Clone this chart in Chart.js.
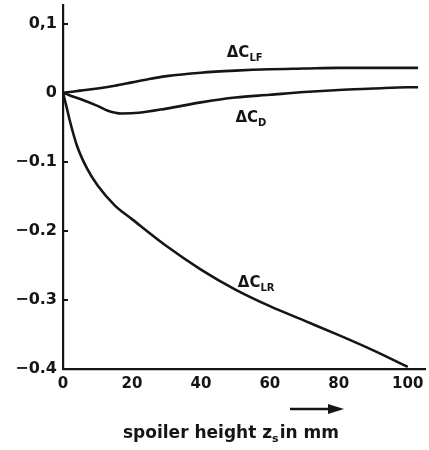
<!DOCTYPE html>
<html>
<head>
<meta charset="utf-8">
<script src="https://cdn.jsdelivr.net/npm/chart.js@4.4.1/dist/chart.umd.min.js"></script>
<style>
	html, body { margin: 0; padding: 0; background: #fff; }
	#wrap { width: 429px; height: 450px; }
</style>
</head>
<body>
<div id="wrap"><canvas id="chart"></canvas></div>
<script>
// spoiler height in mm
const x_lf = [0, 2, 5, 10, 15, 20, 25, 30, 40, 50, 60, 70, 80, 90, 100, 103];
const lift_front = [0, 0.001, 0.003, 0.006, 0.010, 0.015, 0.020, 0.024, 0.029, 0.032, 0.034, 0.035, 0.036, 0.036, 0.036, 0.036];

const x_d = [0, 2, 5, 10, 13, 17, 22, 30, 40, 50, 60, 70, 80, 90, 100, 103];
const drag = [0, -0.004, -0.009, -0.019, -0.026, -0.030, -0.029, -0.023, -0.014, -0.007, -0.003, 0.001, 0.004, 0.006, 0.008, 0.008];

const x_lr = [0, 1, 2, 4, 7, 10, 15, 20, 30, 40, 50, 60, 70, 80, 90, 100];
const lift_rear = [0, -0.020, -0.041, -0.076, -0.110, -0.134, -0.163, -0.183, -0.222, -0.256, -0.285, -0.309, -0.330, -0.351, -0.373, -0.397];

const x_ticks = [0, 20, 40, 60, 80, 100];
const y_ticks = [-0.4, -0.3, -0.2, -0.1, 0, 0.1];

const ink = '#151515';

function to_points(xs, ys) {
	let pts = [];
	for (let i = 0; i < xs.length; i++) {
		pts.push({ x: xs[i], y: ys[i] });
	}
	return pts;
}

function y_label(v) {
	if (v == 0) return '0';
	if (v > 0) return String(v).replace('.', ',');
	return '\u2212' + String(-v);
}

// texte avec indice (Delta C_xx)
function draw_sub(ctx, x, y, main, sub, size, subsize) {
	ctx.font = 'bold ' + size + 'px "DejaVu Sans"';
	ctx.fillText(main, x, y);
	const w = ctx.measureText(main).width;
	ctx.font = 'bold ' + subsize + 'px "DejaVu Sans"';
	ctx.fillText(sub, x + w, y + 4);
	return w + ctx.measureText(sub).width;
}

const extras = {
	id: 'extras',
	afterDraw(chart) {
		const ctx = chart.ctx;
		const xs = chart.scales.x;
		const ys = chart.scales.y;
		ctx.save();
		ctx.fillStyle = ink;
		ctx.strokeStyle = ink;

		// small tick marks pointing into the plot
		ctx.lineWidth = 2;
		for (let i = 1; i < y_ticks.length; i++) {
			const py = Math.round(ys.getPixelForValue(y_ticks[i]));
			ctx.beginPath();
			ctx.moveTo(xs.left, py);
			ctx.lineTo(xs.left + 5, py);
			ctx.stroke();
		}

		// curve labels
		ctx.textAlign = 'left';
		ctx.textBaseline = 'alphabetic';
		draw_sub(ctx, xs.getPixelForValue(47.5), ys.getPixelForValue(0.052), '\u0394C', 'LF', 15, 10);
		draw_sub(ctx, xs.getPixelForValue(50), ys.getPixelForValue(-0.042), '\u0394C', 'D', 15, 10);
		draw_sub(ctx, xs.getPixelForValue(50.7), ys.getPixelForValue(-0.281), '\u0394C', 'LR', 15, 10);

		// axis title
		const tx = 123, ty = 438;
		ctx.font = 'bold 17px "DejaVu Sans"';
		const part1 = 'spoiler height z';
		ctx.fillText(part1, tx, ty);
		let w = ctx.measureText(part1).width;
		ctx.font = 'bold 11px "DejaVu Sans"';
		ctx.fillText('s', tx + w, ty + 4);
		w += ctx.measureText('s').width + 1;
		ctx.font = 'bold 17px "DejaVu Sans"';
		ctx.fillText('in mm', tx + w, ty);

		// arrow
		ctx.lineWidth = 2.5;
		ctx.beginPath();
		ctx.moveTo(290, 409);
		ctx.lineTo(332, 409);
		ctx.stroke();
		ctx.beginPath();
		ctx.moveTo(344, 409);
		ctx.lineTo(328, 404);
		ctx.lineTo(328, 414);
		ctx.closePath();
		ctx.fill();

		ctx.restore();
	}
};

const line_style = {
	borderColor: ink,
	borderWidth: 2.6,
	pointRadius: 0,
	fill: false,
	cubicInterpolationMode: 'monotone',
};

new Chart(document.getElementById('chart'), {
	type: 'line',
	data: {
		datasets: [
			Object.assign({ label: 'dCLF', data: to_points(x_lf, lift_front) }, line_style),
			Object.assign({ label: 'dCD', data: to_points(x_d, drag) }, line_style),
			Object.assign({ label: 'dCLR', data: to_points(x_lr, lift_rear) }, line_style),
		],
	},
	options: {
		responsive: true,
		maintainAspectRatio: false,
		animation: false,
		layout: { padding: { top: 5, right: 4, left: 0, bottom: 0 } },
		plugins: {
			legend: { display: false },
			tooltip: { enabled: false },
		},
		scales: {
			x: {
				type: 'linear',
				min: 0,
				max: 105,
				afterBuildTicks: (scale) => { scale.ticks = x_ticks.map((v) => ({ value: v })); },
				afterFit: (scale) => { scale.height = 81; scale.paddingLeft = 0; scale.paddingRight = 0; },
				grid: { display: false, drawTicks: false },
				border: { display: true, color: ink, width: 2.2 },
				ticks: {
					color: ink,
					padding: 6,
					maxRotation: 0,
					font: { family: 'DejaVu Sans', size: 15, weight: 'bold' },
				},
			},
			y: {
				type: 'linear',
				min: -0.4,
				max: 0.127,
				afterBuildTicks: (scale) => { scale.ticks = y_ticks.map((v) => ({ value: v })); },
				afterFit: (scale) => { scale.width = 63; scale.paddingTop = 0; scale.paddingBottom = 0; },
				grid: { display: false, drawTicks: false },
				border: { display: true, color: ink, width: 2.2 },
				ticks: {
					color: ink,
					padding: 6,
					font: { family: 'DejaVu Sans', size: 16, weight: 'bold' },
					callback: (v) => y_label(v),
				},
			},
		},
	},
	plugins: [extras],
});
</script>
</body>
</html>
